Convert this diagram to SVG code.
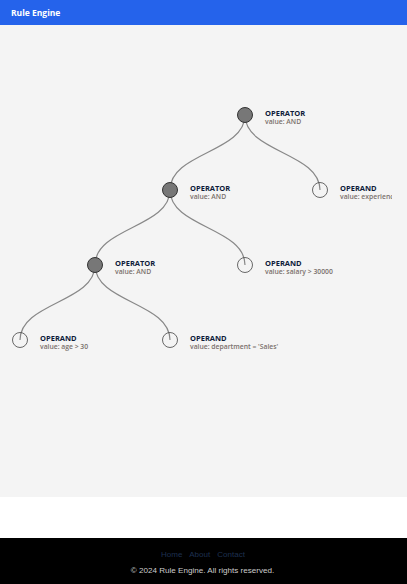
<svg xmlns="http://www.w3.org/2000/svg" width="407" height="584" viewBox="0 0 407 584">
<style>
.link{fill:none;stroke:#888;stroke-width:1.2}
.op{fill:#777;stroke:#333;stroke-width:1}
.leaf{fill:none;stroke:#444;stroke-width:0.8}
.t{font-family:"Open Sans","Noto Sans",sans-serif;font-size:7.5px;font-weight:bold;fill:#0d1b3a}
.v{font-family:"Open Sans","Noto Sans",sans-serif;font-size:6.8px;font-weight:600;fill:#7a706c}
</style>
<defs><clipPath id="c"><rect x="0" y="25" width="392" height="472"/></clipPath></defs>
<rect x="0" y="0" width="407" height="584" fill="#ffffff"/>
<rect x="0" y="0" width="407" height="25" fill="#2563eb"/>
<text x="11" y="15.5" font-family="'Open Sans','Noto Sans',sans-serif" font-size="8.5" font-weight="bold" fill="#ffffff">Rule Engine</text>
<rect x="0" y="25" width="407" height="472" fill="#f4f4f4"/>
<g clip-path="url(#c)">
<g id="connectors">
<path class="link" d="M245,115 C245,152.5 170,152.5 170,190"/>
<path class="link" d="M245,115 C245,152.5 320,152.5 320,190"/>
<path class="link" d="M170,190 C170,227.5 95,227.5 95,265"/>
<path class="link" d="M170,190 C170,227.5 245,227.5 245,265"/>
<path class="link" d="M95,265 C95,302.5 20,302.5 20,340"/>
<path class="link" d="M95,265 C95,302.5 170,302.5 170,340"/>
</g>
<g id="n1"><circle class="op" cx="245" cy="115" r="7.5"/><text class="t" x="265" y="116">OPERATOR</text><text class="v" x="265" y="124">value: AND</text></g>
<g id="n2"><circle class="op" cx="170" cy="190" r="7.5"/><text class="t" x="190" y="191">OPERATOR</text><text class="v" x="190" y="199">value: AND</text></g>
<g id="n3"><circle class="leaf" cx="320" cy="190" r="7.5"/><text class="t" x="340" y="191">OPERAND</text><text class="v" x="340" y="199">value: experience &gt; 5</text></g>
<g id="n4"><circle class="op" cx="95" cy="265" r="7.5"/><text class="t" x="115" y="266">OPERATOR</text><text class="v" x="115" y="274">value: AND</text></g>
<g id="n5"><circle class="leaf" cx="245" cy="265" r="7.5"/><text class="t" x="265" y="266">OPERAND</text><text class="v" x="265" y="274">value: salary &gt; 30000</text></g>
<g id="n6"><circle class="leaf" cx="20" cy="340" r="7.5"/><text class="t" x="40" y="341">OPERAND</text><text class="v" x="40" y="349">value: age &gt; 30</text></g>
<g id="n7"><circle class="leaf" cx="170" cy="340" r="7.5"/><text class="t" x="190" y="341">OPERAND</text><text class="v" x="190" y="349">value: department = 'Sales'</text></g>
</g>
<rect x="0" y="538" width="407" height="46" fill="#000000"/>
<text x="203" y="557" text-anchor="middle" font-family="'Liberation Sans',Arial,sans-serif" font-size="8" fill="#1e3050" word-spacing="5">Home About Contact</text>
<text x="202.5" y="573" text-anchor="middle" font-family="'Liberation Sans',Arial,sans-serif" font-size="8.1" fill="#cccccc">© 2024 Rule Engine. All rights reserved.</text>
</svg>
